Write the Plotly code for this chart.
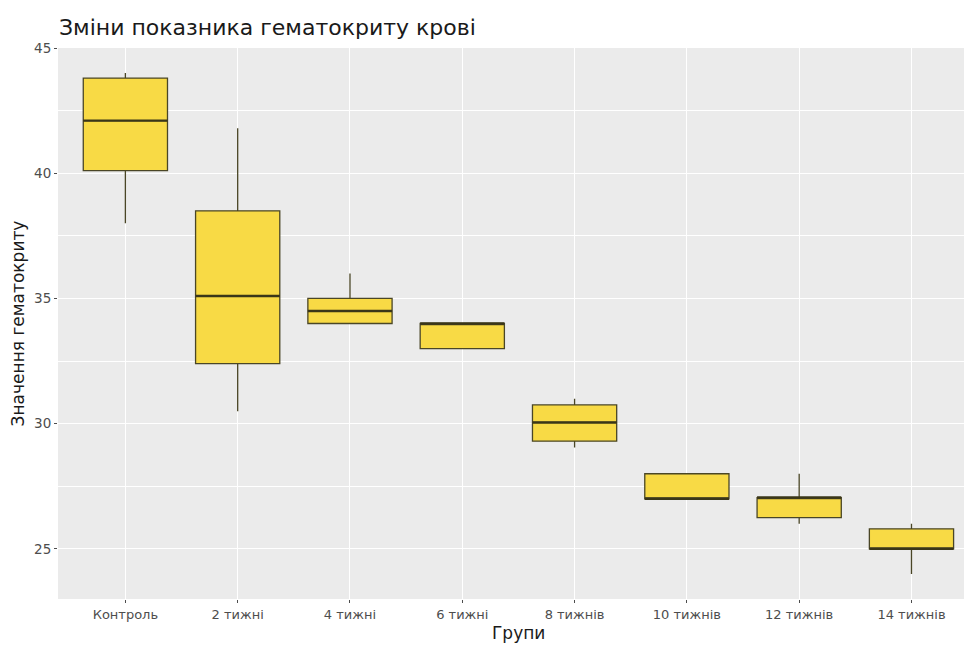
import plotly.graph_objects as go

categories = ["Контроль", "2 тижні", "4 тижні", "6 тижні", "8 тижнів", "10 тижнів", "12 тижнів", "14 тижнів"]
lower_whisker = [38.0, 30.5, 34.0, 33.0, 29.05, 27.0, 26.0, 24.0]
q1_values = [40.1, 32.4, 34.0, 33.0, 29.3, 27.0, 26.25, 25.0]
median_values = [42.1, 35.1, 34.5, 34.0, 30.05, 27.0, 27.05, 25.0]
q3_values = [43.8, 38.5, 35.0, 34.0, 30.75, 28.0, 27.05, 25.8]
upper_whisker = [44.0, 41.8, 36.0, 34.0, 31.0, 28.0, 28.0, 26.0]
y_ticks = [25, 30, 35, 40, 45]

BOX_W = 0.75
FILL = "#F8DA45"
EDGE = "#4A4626"
FONT = "DejaVu Sans, Liberation Sans, Arial, sans-serif"

xpos = list(range(len(categories)))

fig = go.Figure()
fig.add_trace(go.Box(
    x=xpos,
    q1=q1_values, median=median_values, q3=q3_values,
    lowerfence=lower_whisker, upperfence=upper_whisker,
    width=BOX_W,
    fillcolor=FILL,
    line=dict(color=EDGE, width=1.3),
    whiskerwidth=0,
    boxpoints=False,
    showlegend=False,
    hoverinfo="skip",
))

# thicker median lines (ggplot style)
mx, my = [], []
for i, m in zip(xpos, median_values):
    mx += [i - BOX_W / 2, i + BOX_W / 2, None]
    my += [m, m, None]
fig.add_trace(go.Scatter(x=mx, y=my, mode="lines",
                         line=dict(color="#3A3618", width=2.4),
                         showlegend=False, hoverinfo="skip"))

W, H = 964, 648
L, R, T, B = 58, 0, 48, 49
ppu = 112.3
x_left = -0.6
x_right = x_left + (W - L - R) / ppu

fig.update_layout(
    width=W, height=H,
    margin=dict(l=L, r=R, t=T, b=B),
    paper_bgcolor="white",
    plot_bgcolor="#EBEBEB",
    font=dict(family=FONT, color="#4D4D4D"),
    title=dict(text="Зміни показника гематокриту крові",
               font=dict(size=22, color="#1A1A1A"),
               xref="container", yref="container",
               x=59 / W, xanchor="left", y=1 - 27 / H, yanchor="middle"),
    xaxis=dict(range=[x_left, x_right], tickmode="array", tickvals=xpos,
               ticktext=categories, showgrid=True, gridcolor="white", gridwidth=1.2,
               zeroline=False, ticks="outside", ticklen=3, tickcolor="#4D4D4D",
               tickfont=dict(size=13, color="#4D4D4D"), showline=False),
    yaxis=dict(range=[23, 45], tickmode="array", tickvals=y_ticks,
               showgrid=True, gridcolor="white", gridwidth=1.2,
               zeroline=False, ticks="outside", ticklen=3, tickcolor="#4D4D4D",
               tickfont=dict(size=13.5, color="#4D4D4D"), showline=False,
               minor=dict(tickmode="array", tickvals=[22.5, 27.5, 32.5, 37.5, 42.5],
                          showgrid=True, gridcolor="white", gridwidth=0.6, ticks=""),
               title=dict(text="Значення гематокриту", font=dict(size=17, color="#1A1A1A"),
                          standoff=5)),
)

# x-axis title centred on the full (uncropped) ggplot panel
full_right = L + (len(categories) - 1 + 0.6 - x_left) * ppu
fig.add_annotation(text="Групи", xref="paper", yref="paper",
                   x=((L + full_right) / 2 - L) / (W - L - R), y=-0.062,
                   xanchor="center", yanchor="middle", showarrow=False,
                   font=dict(size=17, color="#1A1A1A"))

fig.write_html("out.html", config={"displayModeBar": False},
               post_script="document.body.style.margin='0';document.body.style.overflow='hidden';")
